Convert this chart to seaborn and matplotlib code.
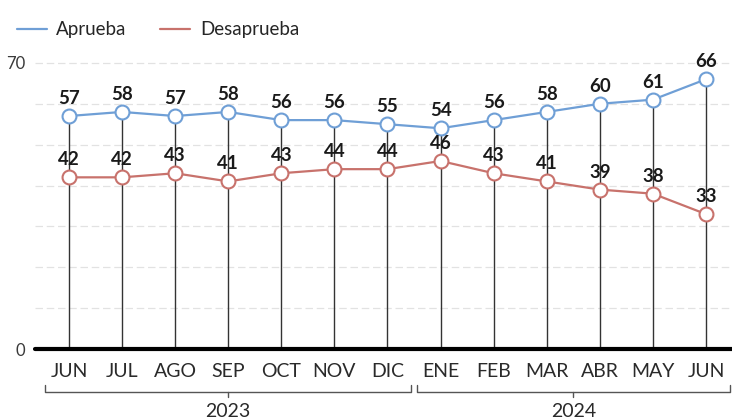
import numpy as np
import pandas as pd
import matplotlib.pyplot as plt
import seaborn as sns
from matplotlib.lines import Line2D

meses = ['JUN', 'JUL', 'AGO', 'SEP', 'OCT', 'NOV', 'DIC',
         'ENE', 'FEB', 'MAR', 'ABR', 'MAY', 'JUN']
aprueba = [57, 58, 57, 58, 56, 56, 55, 54, 56, 58, 60, 61, 66]
desaprueba = [42, 42, 43, 41, 43, 44, 44, 46, 43, 41, 39, 38, 33]
anios = ['2023', '2024']
meses_por_anio = [7, 6]

azul = '#6f9fd6'
rojo = '#c8726c'

sns.set_style('white')
plt.rcParams['font.family'] = ['Lato', 'DejaVu Sans']

idx = np.arange(len(meses))
df = pd.DataFrame({
    'idx': np.concatenate([idx, idx]),
    'valor': aprueba + desaprueba,
    'serie': ['Aprueba'] * len(idx) + ['Desaprueba'] * len(idx),
})

fig = plt.figure(figsize=(7.32, 4.2), dpi=100)
ax = fig.add_axes([35 / 732, 71 / 420, 697 / 732, 309 / 420])

# palitos verticales desde el punto de arriba hasta 0
for i, v in zip(idx, aprueba):
    ax.plot([i, i], [0, v], color='#333333', lw=1.0, zorder=1)

sns.lineplot(data=df, x='idx', y='valor', hue='serie',
             palette={'Aprueba': azul, 'Desaprueba': rojo},
             marker='o', markersize=10, lw=1.6, ax=ax, legend=False, zorder=3)
for ln in ax.lines[len(idx):]:
    ln.set_markerfacecolor('white')
    ln.set_markeredgecolor(ln.get_color())
    ln.set_markeredgewidth(1.5)

for i, v in zip(idx, aprueba):
    ax.text(i, v + 2.2, str(v), ha='center', va='bottom', fontsize=13.5,
            fontweight='bold', color='#1a1a1a', zorder=5)
for i, v in zip(idx, desaprueba):
    ax.text(i, v + 2.2, str(v), ha='center', va='bottom', fontsize=13.5,
            fontweight='bold', color='#1a1a1a', zorder=5)

ax.set_xlim(-0.64, 12.49)
ax.set_ylim(0, 75.6)
for g in range(10, 80, 10):
    ax.axhline(g, color='#e2e2e2', lw=0.9, ls=(0, (6, 3)), zorder=0)
ax.axhline(0, color='black', lw=3, zorder=4, clip_on=False)

sns.despine(ax=ax, left=True, bottom=True, top=True, right=True)
ax.set_xticks(idx)
ax.set_xticklabels(meses, fontsize=14, color='#2a2a2a')
ax.tick_params(axis='x', length=0, pad=10)
ax.set_yticks([0, 70])
ax.set_yticklabels(['0', '70'], fontsize=12, color='#3a3a3a')
ax.tick_params(axis='y', length=0, pad=7)
ax.set_xlabel('')
ax.set_ylabel('')

# llaves de los años
inicio = 0
for anio, n in zip(anios, meses_por_anio):
    x0, x1 = inicio - 0.45, inicio + n - 1 + 0.45
    xm = (x0 + x1) / 2
    yb, yt, yd = -10.4, -8.7, -11.7
    ax.plot([x0, x0, x1, x1], [yt, yb, yb, yt], color='#555555', lw=1.0,
            clip_on=False)
    ax.plot([xm, xm], [yb, yd], color='#555555', lw=1.0, clip_on=False)
    ax.text(xm, -15.3, anio, ha='center', va='center', fontsize=14,
            color='#2a2a2a')
    inicio += n

handles = [Line2D([], [], color=azul, lw=1.6),
           Line2D([], [], color=rojo, lw=1.6)]
fig.legend(handles, ['Aprueba', 'Desaprueba'], loc='upper left',
           bbox_to_anchor=(0.0, 0.99), ncol=2, frameon=False, fontsize=13.5,
           handlelength=1.6, columnspacing=1.8, handletextpad=0.5)

fig.savefig('out.png', dpi=100)
